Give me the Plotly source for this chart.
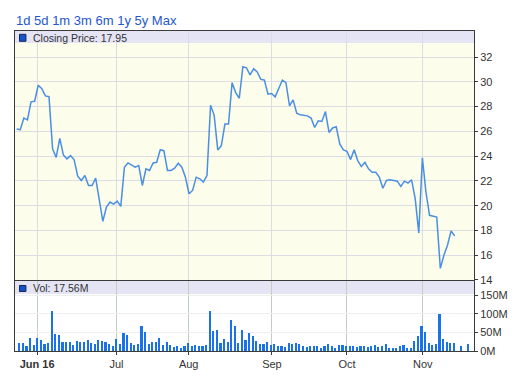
import numpy as np
import plotly.graph_objects as go

# ---- data (trading-day index, ~6 months to mid Nov 2016) ----
price = [
    26.19, 26.13, 27.07, 26.93, 28.38, 28.43, 29.72, 29.45, 28.86, 28.80,
    24.58, 23.90, 25.43, 24.10, 23.78, 24.04, 23.70, 22.38, 22.03, 22.43,
    21.63, 21.63, 22.22, 20.29, 18.74, 19.89, 20.29, 20.13, 20.37, 19.94,
    23.10, 23.45, 23.24, 23.10, 23.24, 21.63, 22.97, 22.84, 23.45, 23.50,
    24.52, 24.44, 22.84, 22.84, 23.02, 23.42, 23.10, 22.30, 20.96, 21.23,
    22.30, 22.17, 21.90, 22.43, 28.11, 27.31, 24.50, 24.84, 26.59, 26.59,
    29.93, 29.13, 28.67, 31.21, 31.13, 30.55, 31.05, 30.79, 30.20, 30.14,
    29.00, 29.05, 28.78, 29.40, 30.14, 29.93, 28.06, 28.54, 27.47, 27.33,
    27.31, 27.25, 27.07, 26.31, 26.85, 26.80, 27.60, 25.91, 26.27, 26.37,
    24.98, 24.50, 24.39, 23.72, 24.52, 23.64, 23.16, 23.50, 22.97, 22.70,
    22.70, 22.30, 21.41, 22.03, 22.09, 22.06, 21.98, 21.55, 21.98, 21.82,
    22.09, 20.56, 17.80, 23.86, 21.09, 19.22, 19.14, 19.08, 14.94, 16.00,
    16.81, 17.96, 17.56,
]

volume_m = [
    21.6, 21.6, 12.6, 35, 16, 35, 30, 19, 21.6, 108,
    45, 43, 23, 23, 23, 16, 27, 23, 23, 30,
    21.6, 19, 29, 26, 25, 19, 12.6, 32, 19, 49,
    43, 21.6, 16, 19, 68, 50, 19, 25, 25, 35,
    16, 23, 16, 11, 12.6, 9, 14, 21, 14, 16,
    12.6, 12.6, 16, 108, 54, 57, 21.6, 31, 25, 84,
    68, 21.6, 57, 30, 49, 41, 26, 19, 19, 23,
    16, 19, 12.6, 12.6, 11, 21.6, 19, 21.6, 18, 12.6,
    12, 12.6, 12.6, 12.6, 7, 14, 19, 12.6, 9, 16,
    16, 14, 12.6, 12.6, 11, 12.6, 12.6, 11, 12.6, 16,
    12, 14, 19, 8, 8, 8, 14, 16, 8, 8,
    26, 39, 68, 50, 21.6, 17, 19, 100, 32, 23,
    21.6, 21.6, 0, 14, 0, 19,
]

month_labels = ["<b>Jun 16</b>", "Jul", "Aug", "Sep", "Oct", "Nov"]
month_pos = [5.7, 27.8, 47.9, 71.1, 92.0, 113.1]
price_ticks = [14, 16, 18, 20, 22, 24, 26, 28, 30, 32]
vol_ticks = [0, 50, 100, 150]
vol_ticklabels = ["0M", "50M", "100M", "150M"]
range_buttons = "1d 5d 1m 3m 6m 1y 5y Max"
closing_label = "Closing Price: 17.95"
vol_label = "Vol: 17.56M"

FONT = "Arial, Liberation Sans, sans-serif"
TXT = "#333333"
LINE = "#3a3a3a"

x_price = np.arange(len(price))
x_vol = np.arange(1, len(volume_m) + 1) - 0.25

fig = go.Figure()
fig.add_trace(go.Scatter(x=x_price, y=price, mode="lines",
                         line=dict(color="#4a8fe3", width=1.5),
                         xaxis="x", yaxis="y", hoverinfo="skip"))
fig.add_trace(go.Bar(x=x_vol, y=volume_m, width=0.6,
                     marker=dict(color="#1a72e8", line=dict(width=0)),
                     xaxis="x2", yaxis="y2", hoverinfo="skip"))

xr = [-0.47, 127.38]
fig.update_layout(
    width=529, height=376,
    margin=dict(l=15, r=55, t=31, b=25, autoexpand=False),
    paper_bgcolor="white",
    plot_bgcolor="#fdfdeb",
    showlegend=False,
    bargap=0,
    font=dict(family=FONT, size=11, color=TXT),
    xaxis=dict(domain=[0, 1], range=xr, anchor="y", automargin=False,
               tickvals=month_pos, showticklabels=False, ticks="",
               showgrid=True, gridcolor="#dcdce4", gridwidth=1,
               showline=True, mirror=True, linecolor=LINE, linewidth=1,
               zeroline=False),
    yaxis=dict(domain=[0.2219, 1], range=[14, 34.1], side="right", anchor="x",
               automargin=False,
               tickvals=price_ticks, ticks="outside", ticklen=3, tickcolor=LINE,
               showgrid=True, gridcolor="#dcdce4", gridwidth=1,
               showline=True, mirror=True, linecolor=LINE, linewidth=1,
               zeroline=False, tickfont=dict(size=11, color=TXT)),
    xaxis2=dict(domain=[0, 1], range=xr, anchor="y2", matches="x", automargin=False,
                tickvals=month_pos, ticktext=month_labels,
                ticks="outside", ticklen=3, tickcolor=LINE,
                showgrid=True, gridcolor="#c3cec3", gridwidth=1,
                showline=True, mirror=True, linecolor=LINE, linewidth=1,
                zeroline=False, tickfont=dict(size=11, color=TXT)),
    yaxis2=dict(domain=[0, 0.21875], range=[0, 188], side="right", anchor="x2",
                automargin=False,
                tickvals=vol_ticks, ticktext=vol_ticklabels,
                ticks="outside", ticklen=3, tickcolor=LINE,
                showgrid=True, gridcolor="#eeeeee", gridwidth=1,
                showline=True, mirror=True, linecolor=LINE, linewidth=1,
                zeroline=False, tickfont=dict(size=11, color=TXT)),
)

# volume panel background white
fig.add_shape(type="rect", xref="x2 domain", yref="y2 domain", x0=0, x1=1, y0=0, y1=1,
              fillcolor="white", line=dict(width=0), layer="below")
# header bands
fig.add_shape(type="rect", xref="x domain", yref="y domain", x0=0, x1=1, y0=0.9518, y1=1,
              fillcolor="#e4e4f5", line=dict(width=0), layer="below")
fig.add_shape(type="rect", xref="x2 domain", yref="y2 domain", x0=0, x1=1, y0=0.814, y1=1,
              fillcolor="#e4e4f5", line=dict(width=0), layer="below")
# legend squares
fig.add_shape(type="rect", xref="x domain", yref="y domain", x0=0.0098, x1=0.0238,
              y0=0.9586, y1=0.9867, fillcolor="#1155cc", line=dict(color="#1a2650", width=1))
fig.add_shape(type="rect", xref="x2 domain", yref="y2 domain", x0=0.0098, x1=0.0238,
              y0=0.85, y1=0.936, fillcolor="#1155cc", line=dict(color="#1a2650", width=1))

fig.add_annotation(text=closing_label, xref="x domain", yref="y domain", x=0.034, y=0.9727,
                   xanchor="left", yanchor="middle", showarrow=False,
                   font=dict(size=10.5, color=TXT, family=FONT))
fig.add_annotation(text=vol_label, xref="x2 domain", yref="y2 domain", x=0.034, y=0.893,
                   xanchor="left", yanchor="middle", showarrow=False,
                   font=dict(size=10.5, color=TXT, family=FONT))
fig.add_annotation(text=range_buttons, xref="paper", yref="paper", x=0, y=1,
                   xanchor="left", yanchor="middle", yshift=10.5, xshift=-1,
                   showarrow=False, font=dict(size=13, color="#2356cf", family=FONT))

fig.write_html("out.html", config={"displayModeBar": False},
               post_script="document.body.style.margin='0';document.body.style.padding='0';")
